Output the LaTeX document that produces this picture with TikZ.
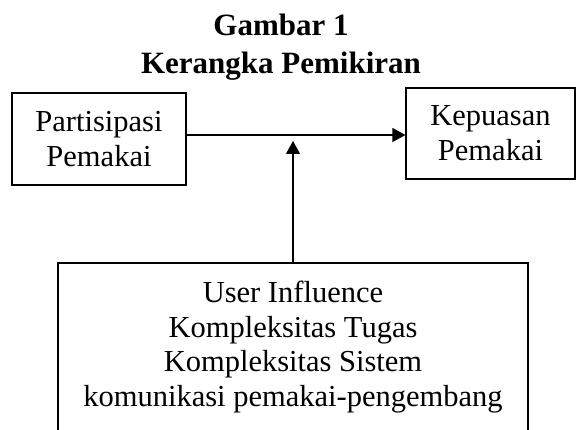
\documentclass[tikz,border=0pt]{standalone}
\usepackage{fontspec}
\setmainfont{Liberation Serif}
\usetikzlibrary{arrows.meta}

\begin{document}
\begin{tikzpicture}[x=1pt,y=-1pt,
		kotak/.style={draw,line width=1.2pt,align=center,inner sep=0pt,
			font=\fontsize{30.5}{35}\selectfont},
		panah/.style={line width=1.2pt,-{Triangle[length=13pt,width=14pt]}}]
		% 边界
		\useasboundingbox (0,0) rectangle (576,430);
		% 标题
		\node[align=center,inner sep=0pt,font=\bfseries\fontsize{31}{38}\selectfont] (judul) at (281,47) {Gambar 1\\Kerangka Pemikiran};
		% 方框
		\node[kotak,minimum width=174pt,minimum height=92pt] (partisipasi) at (99,139) {Partisipasi\\Pemakai};
		\node[kotak,minimum width=169pt,minimum height=91pt] (kepuasan) at (490.5,133.5) {Kepuasan\\Pemakai};
		\node[kotak,minimum width=470pt,minimum height=168pt,font=\fontsize{30.5}{34.5}\selectfont] (faktor) at (293,347) {User Influence\\Kompleksitas Tugas\\Kompleksitas Sistem\\komunikasi pemakai-pengembang};
		% 箭头
		\coordinate (ujung) at (293,141);
		\draw[panah] (partisipasi.east |- 0,135) -- (kepuasan.west |- 0,135);
		\draw[panah] (faktor.north) -- (ujung);
	\end{tikzpicture}
\end{document}
